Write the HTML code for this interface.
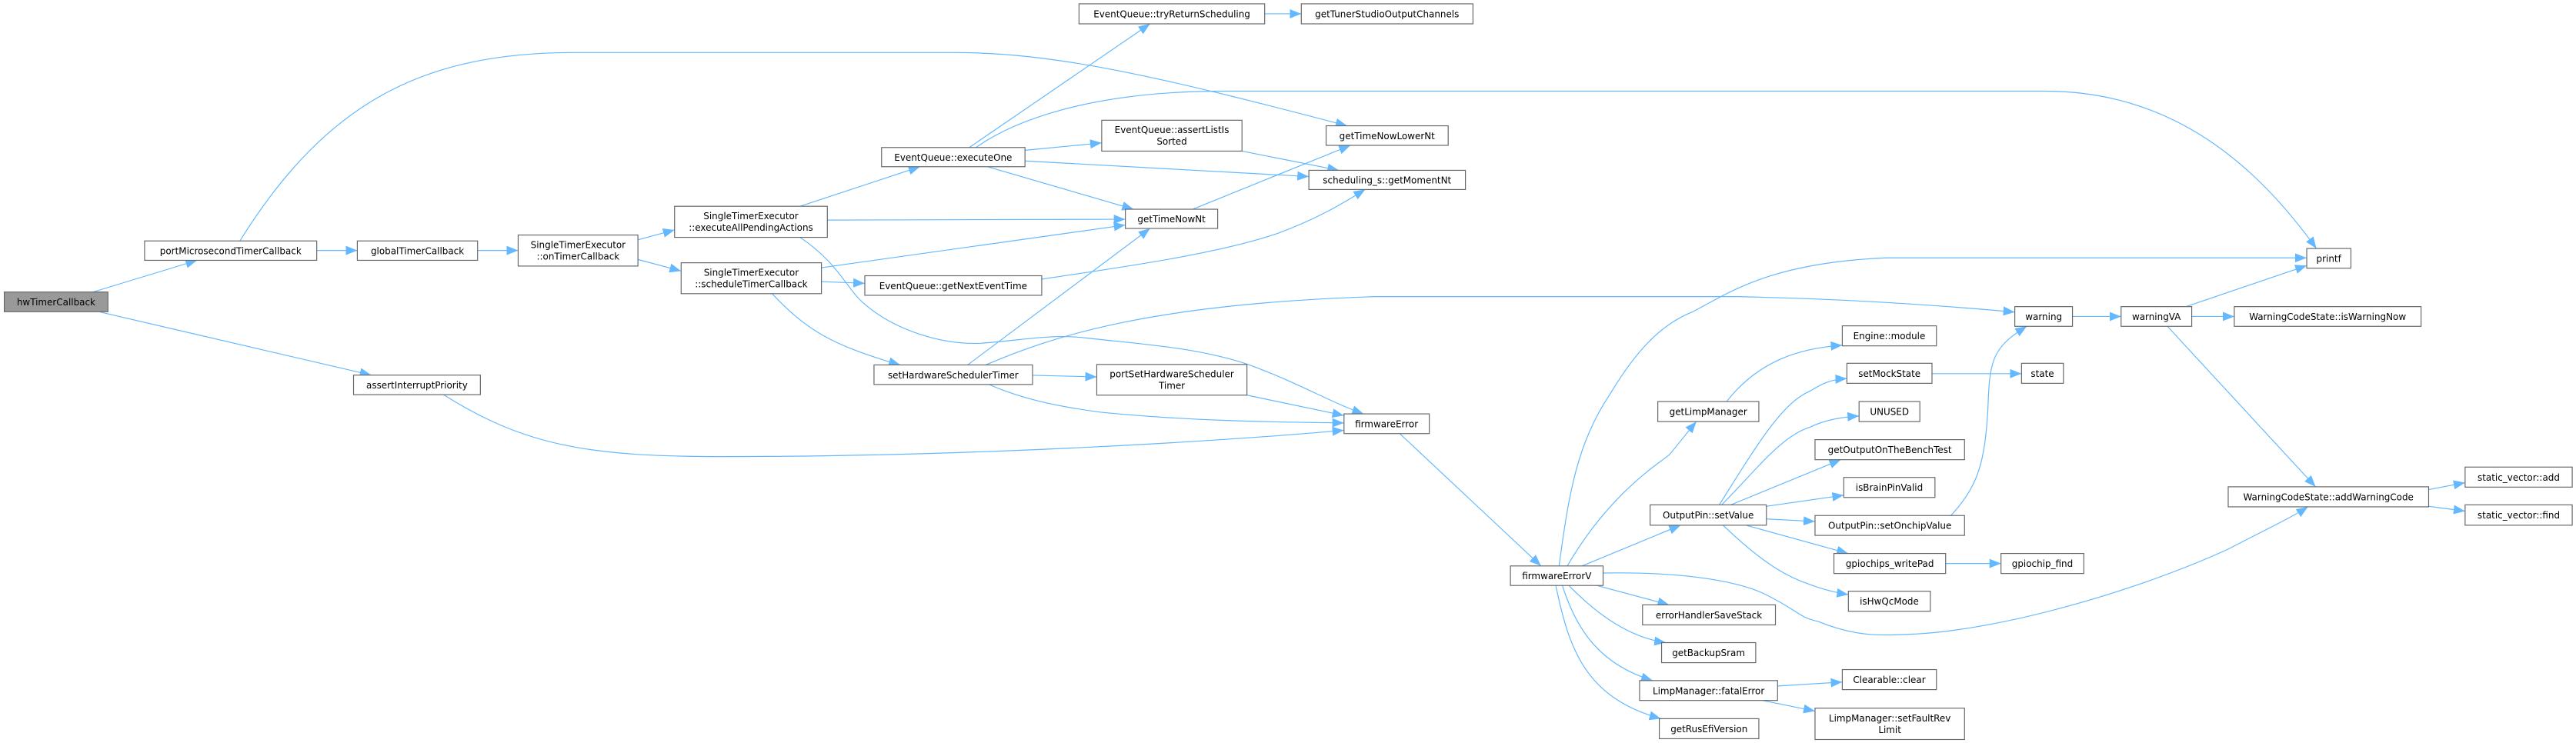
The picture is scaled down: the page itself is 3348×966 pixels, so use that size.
<!DOCTYPE html>
<html><head><meta charset="utf-8"><style>
html,body{margin:0;padding:0;background:#fff;}
svg{display:block;}
text{font-family:"DejaVu Sans","Liberation Sans",sans-serif;font-size:5.6px;fill:#000;}
.n{fill:#fff;stroke:#666;stroke-width:0.55;}
.e{fill:none;stroke:#63b8ff;stroke-width:0.55;}
</style></head><body>
<svg width="3348" height="966" viewBox="0 0 1568 452.4" xmlns="http://www.w3.org/2000/svg">
<defs>
<marker id="a" markerUnits="userSpaceOnUse" markerWidth="8" markerHeight="8" viewBox="0 0 8 8" refX="7" refY="4" orient="auto">
<path d="M0,1.2 L7,4 L0,6.8 Z" fill="#63b8ff"/>
</marker>
</defs>
<g marker-end="url(#a)">
<path class="e" d="M56,178 L120,158.5"/>
<path class="e" d="M61,190 L226,228.4"/>
<path class="e" d="M146,146.7 C200,60 260,32 350,32 L581,32 C640,32 700,45 820,76.6"/>
<path class="e" d="M193,152.5 L217.5,152.5"/>
<path class="e" d="M290.7,152.5 L315.4,152.5"/>
<path class="e" d="M388.3,146 L410.6,140"/>
<path class="e" d="M388.3,158 L414.6,165"/>
<path class="e" d="M270,240.3 C320,272 360,278 440,278 C600,278 750,268 818,262"/>
<path class="e" d="M487,125.6 L560,101.5"/>
<path class="e" d="M503.6,134 L685,133.5"/>
<path class="e" d="M487,144.5 C510,160 515,175 525,184 C545,202 575,210 597,209 C625,207 640,203 663,206 C700,210 730,212 760,222 C790,233 810,245 830,252"/>
<path class="e" d="M500,163 L685,137"/>
<path class="e" d="M500,171.5 L526.4,172.5"/>
<path class="e" d="M470,178.8 C490,200 505,210 548,222.2"/>
<path class="e" d="M590,89.8 L700,14.5"/>
<path class="e" d="M594,89.8 C615,75 660,55.5 745,55.5 L1245,55.5 C1330,55.5 1380,110 1410,151.3"/>
<path class="e" d="M623.9,91.5 L670.6,87"/>
<path class="e" d="M623.9,98 L796.7,107.5"/>
<path class="e" d="M601,101.5 L690,127.4"/>
<path class="e" d="M769.8,8.4 L792.1,8.4"/>
<path class="e" d="M756,92 L815,103.7"/>
<path class="e" d="M726,127.4 L822,88.5"/>
<path class="e" d="M634.1,170 C680,163 740,155 778,142 C805,132 820,122 831,115.4"/>
<path class="e" d="M589,222.2 L700,139.1"/>
<path class="e" d="M600,222.2 C640,205 700,185 837,180.6 L1058,180.6 C1120,182 1170,185 1226.4,190"/>
<path class="e" d="M628.5,228.5 L667.6,229.5"/>
<path class="e" d="M602,234.1 C620,242 640,247 670,251 C720,256 770,257 818,257.5"/>
<path class="e" d="M759,240.6 L818,253"/>
<path class="e" d="M852,264 L938,344.6"/>
<path class="e" d="M949,344.6 C955,300 960,270 980,240 C995,215 1010,198 1030,190 C1050,180 1075,160 1148,157 L1404,157"/>
<path class="e" d="M954,344.6 C980,300 1010,282 1016,277 C1022,270 1028,262 1032.6,256.7"/>
<path class="e" d="M963,344.6 L1023,319.8"/>
<path class="e" d="M972,356.5 L1016,368.3"/>
<path class="e" d="M955,356.5 C970,372 990,388 1014,391.3"/>
<path class="e" d="M951,356.5 C960,385 975,405 1006,414.4"/>
<path class="e" d="M947,356.5 C955,395 965,425 1011,437.6"/>
<path class="e" d="M975.8,348.9 C1030,348 1060,355 1074,361.6 C1095,372 1095,376 1106.6,378.4 C1130,388 1145,387 1166.7,386 C1220,383 1300,360 1356,334.5 C1380,322 1395,315 1404.8,308.6"/>
<path class="e" d="M1051,244.5 C1070,220 1095,212 1121.4,210.2"/>
<path class="e" d="M1046.5,307.4 C1070,270 1085,245 1102,238 C1110,233 1115,231 1124.2,230.5"/>
<path class="e" d="M1048,307.4 C1070,285 1085,265 1102,260 C1110,256 1120,254 1131.6,253.3"/>
<path class="e" d="M1053.5,307.4 L1120.5,279.9"/>
<path class="e" d="M1075,308.3 L1122.3,301.5"/>
<path class="e" d="M1075.2,316 L1104.8,317.5"/>
<path class="e" d="M1062.7,319.8 L1125,337"/>
<path class="e" d="M1048.8,319.8 C1075,345 1090,352 1102,356 C1110,359 1118,361 1125.1,362"/>
<path class="e" d="M1176,227.5 L1230.5,227.5"/>
<path class="e" d="M1187.5,313.9 C1205,295 1208,280 1210,250 C1211,220 1212,212 1233.7,198.7"/>
<path class="e" d="M1184.3,343.1 L1218,343.1"/>
<path class="e" d="M1082,417.7 L1121.4,415.3"/>
<path class="e" d="M1072.9,426.5 L1104.8,433"/>
<path class="e" d="M1261.5,192.7 L1291.1,192.7"/>
<path class="e" d="M1334.1,192.7 L1360,192.7"/>
<path class="e" d="M1330.6,186.7 L1404.1,161.7"/>
<path class="e" d="M1319.3,198.7 L1409.5,296.4"/>
<path class="e" d="M1478.3,298.1 L1500.5,293.9"/>
<path class="e" d="M1478.3,308.3 L1500.5,311.2"/>
</g>
<g text-anchor="middle">
<rect x="2.6" y="177.8" width="63.1" height="12" fill="#999" stroke="#666" stroke-width="0.55"/><text x="34.15" y="186">hwTimerCallback</text>
<rect class="n" x="88" y="146.7" width="104.8" height="11.8"/><text x="140.4" y="154.8">portMicrosecondTimerCallback</text>
<rect class="n" x="217.5" y="146.7" width="73.2" height="11.8"/><text x="254.1" y="154.8">globalTimerCallback</text>
<rect class="n" x="315.4" y="143.1" width="72.9" height="18.9"/><text x="351.9" y="151">SingleTimerExecutor</text><text x="351.9" y="158">::onTimerCallback</text>
<rect class="n" x="410.6" y="125.6" width="93" height="18.9"/><text x="457.1" y="133.5">SingleTimerExecutor</text><text x="457.1" y="140.5">::executeAllPendingActions</text>
<rect class="n" x="414.6" y="160" width="85.4" height="18.8"/><text x="457.3" y="167.9">SingleTimerExecutor</text><text x="457.3" y="174.9">::scheduleTimerCallback</text>
<rect class="n" x="215.2" y="228.4" width="77.2" height="11.9"/><text x="253.8" y="236.5">assertInterruptPriority</text>
<rect class="n" x="656.8" y="2.3" width="113" height="12.2"/><text x="713.3" y="10.5">EventQueue::tryReturnScheduling</text>
<rect class="n" x="792.1" y="2.3" width="104.5" height="12.2"/><text x="844.3" y="10.5">getTunerStudioOutputChannels</text>
<rect class="n" x="536.6" y="89.8" width="87.3" height="11.7"/><text x="580.2" y="97.8">EventQueue::executeOne</text>
<rect class="n" x="670.6" y="73.2" width="85.4" height="18.8"/><text x="713.3" y="81.1">EventQueue::assertListIs</text><text x="713.3" y="88.1">Sorted</text>
<rect class="n" x="807.2" y="76.6" width="74.3" height="11.9"/><text x="844.3" y="84.7">getTimeNowLowerNt</text>
<rect class="n" x="796.7" y="103.7" width="95.3" height="11.7"/><text x="844.3" y="111.7">scheduling_s::getMomentNt</text>
<rect class="n" x="685" y="127.4" width="56.2" height="11.7"/><text x="713.1" y="135.4">getTimeNowNt</text>
<rect class="n" x="526.4" y="167.9" width="107.7" height="11.9"/><text x="580.2" y="176">EventQueue::getNextEventTime</text>
<rect class="n" x="532" y="222.2" width="96.5" height="11.9"/><text x="580.2" y="230.3">setHardwareSchedulerTimer</text>
<rect class="n" x="667.6" y="221.9" width="91.4" height="18.7"/><text x="713.3" y="229.8">portSetHardwareScheduler</text><text x="713.3" y="236.8">Timer</text>
<rect class="n" x="818.1" y="252" width="51.9" height="12"/><text x="844" y="260.2">firmwareError</text>
<rect class="n" x="1404.1" y="151.3" width="26.9" height="12"/><text x="1417.5" y="159.4">printf</text>
<rect class="n" x="1226.4" y="186.7" width="35.1" height="12"/><text x="1244" y="194.8">warning</text>
<rect class="n" x="1291.1" y="186.7" width="43" height="12"/><text x="1312.6" y="194.8">warningVA</text>
<rect class="n" x="1360" y="186.7" width="113.7" height="12"/><text x="1416.8" y="194.8">WarningCodeState::isWarningNow</text>
<rect class="n" x="1121.4" y="198.4" width="57.3" height="12.2"/><text x="1150" y="206.6">Engine::module</text>
<rect class="n" x="1124.2" y="221.2" width="51.8" height="12.2"/><text x="1150.1" y="229.4">setMockState</text>
<rect class="n" x="1230.5" y="221.2" width="25.5" height="12.2"/><text x="1243.2" y="229.4">state</text>
<rect class="n" x="1131.6" y="244.5" width="37" height="12.2"/><text x="1150.1" y="252.7">UNUSED</text>
<rect class="n" x="1104.8" y="267.7" width="91" height="12.2"/><text x="1150.3" y="275.9">getOutputOnTheBenchTest</text>
<rect class="n" x="1122.3" y="290.7" width="55.5" height="12.2"/><text x="1150" y="298.9">isBrainPinValid</text>
<rect class="n" x="1104.8" y="313.9" width="91" height="12.1"/><text x="1150.3" y="322">OutputPin::setOnchipValue</text>
<rect class="n" x="1116.3" y="337" width="68" height="12.2"/><text x="1150.3" y="345.2">gpiochips_writePad</text>
<rect class="n" x="1218" y="337" width="50.4" height="12.2"/><text x="1243.2" y="345.2">gpiochip_find</text>
<rect class="n" x="1125.1" y="360" width="49.9" height="12.2"/><text x="1150" y="368.2">isHwQcMode</text>
<rect class="n" x="1009.1" y="244.5" width="61.5" height="12.2"/><text x="1039.8" y="252.7">getLimpManager</text>
<rect class="n" x="1004.4" y="307.4" width="70.8" height="12.4"/><text x="1039.8" y="315.7">OutputPin::setValue</text>
<rect class="n" x="919.4" y="344.6" width="56.4" height="11.9"/><text x="947.6" y="352.7">firmwareErrorV</text>
<rect class="n" x="999.8" y="368.3" width="80.9" height="12.2"/><text x="1040.2" y="376.5">errorHandlerSaveStack</text>
<rect class="n" x="1011.4" y="391.3" width="57.3" height="12.2"/><text x="1040" y="399.5">getBackupSram</text>
<rect class="n" x="998" y="414.4" width="84" height="12.1"/><text x="1040" y="422.6">LimpManager::fatalError</text>
<rect class="n" x="1121.4" y="407.7" width="57.3" height="12.2"/><text x="1150" y="415.9">Clearable::clear</text>
<rect class="n" x="1104.8" y="431.2" width="91" height="19.1"/><text x="1150.3" y="439.2">LimpManager::setFaultRev</text><text x="1150.3" y="446.3">Limit</text>
<rect class="n" x="1010" y="437.6" width="60.6" height="12.2"/><text x="1040.3" y="445.8">getRusEfiVersion</text>
<rect class="n" x="1356.3" y="296.4" width="122" height="12.2"/><text x="1417.3" y="304.6">WarningCodeState::addWarningCode</text>
<rect class="n" x="1500.5" y="284.4" width="65.2" height="12.2"/><text x="1533.1" y="292.6">static_vector::add</text>
<rect class="n" x="1500.5" y="307.4" width="65.2" height="12.4"/><text x="1533.1" y="315.7">static_vector::find</text>
</g>
</svg>
</body></html>
